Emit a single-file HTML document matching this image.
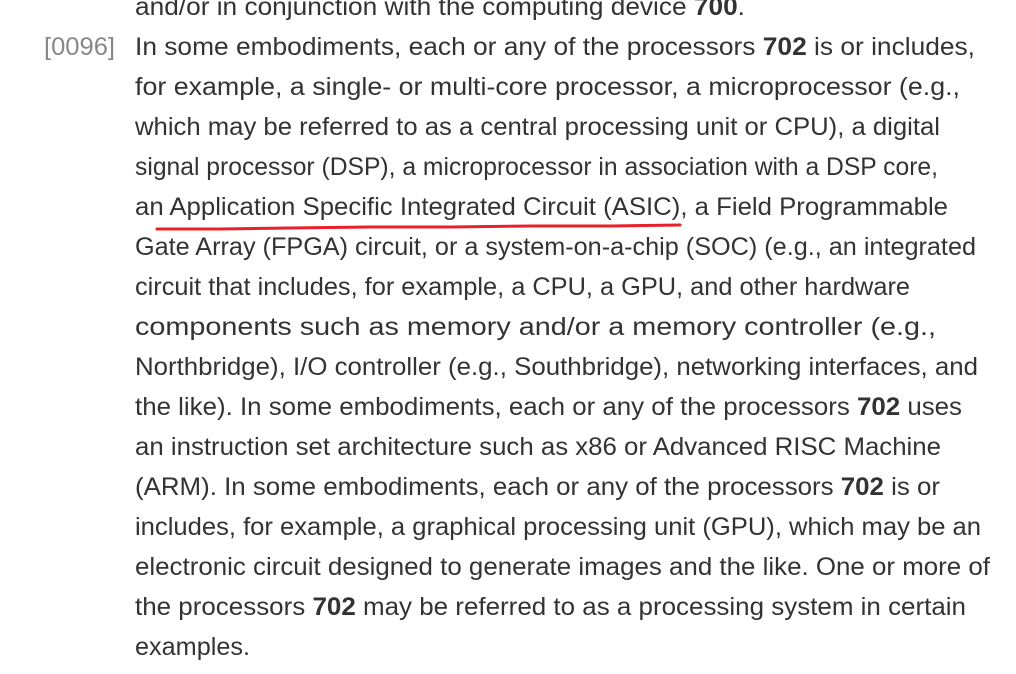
<!DOCTYPE html>
<html><head><meta charset="utf-8"><style>
html,body{margin:0;padding:0;background:#fff;width:1016px;height:674px;overflow:hidden}
svg{display:block}
text{font-family:"Liberation Sans",sans-serif;font-size:25px;fill:#333}
.b{font-weight:bold}
</style></head><body>
<svg width="1016" height="674" viewBox="0 0 1016 674">
<text x="44" y="55" textLength="71" lengthAdjust="spacingAndGlyphs" style="fill:#888">[0096]</text>
<text x="135" y="15" textLength="610" lengthAdjust="spacingAndGlyphs">and/or in conjunction with the computing device <tspan class="b">700</tspan>.</text>
<text x="135" y="55" textLength="840" lengthAdjust="spacingAndGlyphs">In some embodiments, each or any of the processors <tspan class="b">702</tspan> is or includes,</text>
<text x="135" y="95" textLength="825" lengthAdjust="spacingAndGlyphs">for example, a single- or multi-core processor, a microprocessor (e.g.,</text>
<text x="135" y="135" textLength="805" lengthAdjust="spacingAndGlyphs">which may be referred to as a central processing unit or CPU), a digital</text>
<text x="135" y="175" textLength="803" lengthAdjust="spacingAndGlyphs">signal processor (DSP), a microprocessor in association with a DSP core,</text>
<text x="135" y="215" textLength="813" lengthAdjust="spacingAndGlyphs">an Application Specific Integrated Circuit (ASIC), a Field Programmable</text>
<text x="135" y="255" textLength="841" lengthAdjust="spacingAndGlyphs">Gate Array (FPGA) circuit, or a system-on-a-chip (SOC) (e.g., an integrated</text>
<text x="135" y="295" textLength="775" lengthAdjust="spacingAndGlyphs">circuit that includes, for example, a CPU, a GPU, and other hardware</text>
<text x="135" y="335" textLength="801" lengthAdjust="spacingAndGlyphs">components such as memory and/or a memory controller (e.g.,</text>
<text x="135" y="375" textLength="843" lengthAdjust="spacingAndGlyphs">Northbridge), I/O controller (e.g., Southbridge), networking interfaces, and</text>
<text x="135" y="415" textLength="827" lengthAdjust="spacingAndGlyphs">the like). In some embodiments, each or any of the processors <tspan class="b">702</tspan> uses</text>
<text x="135" y="455" textLength="806" lengthAdjust="spacingAndGlyphs">an instruction set architecture such as x86 or Advanced RISC Machine</text>
<text x="135" y="495" textLength="805" lengthAdjust="spacingAndGlyphs">(ARM). In some embodiments, each or any of the processors <tspan class="b">702</tspan> is or</text>
<text x="135" y="535" textLength="846" lengthAdjust="spacingAndGlyphs">includes, for example, a graphical processing unit (GPU), which may be an</text>
<text x="135" y="575" textLength="855" lengthAdjust="spacingAndGlyphs">electronic circuit designed to generate images and the like. One or more of</text>
<text x="135" y="615" textLength="831" lengthAdjust="spacingAndGlyphs">the processors <tspan class="b">702</tspan> may be referred to as a processing system in certain</text>
<text x="135" y="655" textLength="115" lengthAdjust="spacingAndGlyphs">examples.</text>
<path d="M157 229 L220 229 L290 228 L370 227 L450 227 L530 226 L610 226 L680 225" stroke="#e8202a" stroke-width="3" fill="none" stroke-linecap="round"/>
</svg>
</body></html>
